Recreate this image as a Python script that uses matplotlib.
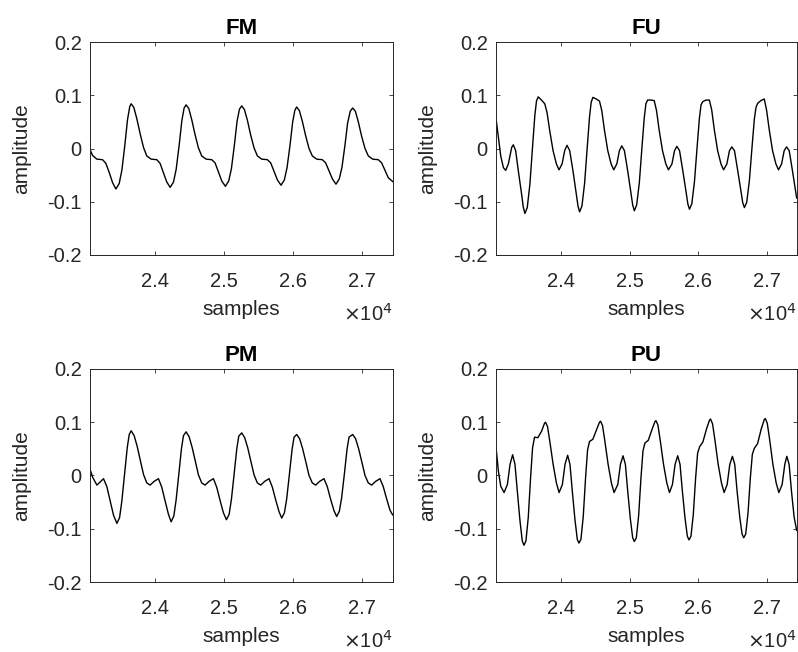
import matplotlib
matplotlib.use('Agg')
import matplotlib.pyplot as plt
import numpy as np

plt.rcParams['font.family'] = ['Liberation Sans', 'DejaVu Sans']

# FM waveform (samples, amplitude)
fm_x = [23050, 23087, 23150, 23232, 23280, 23329, 23377, 23425, 23473, 23512, 23555, 23594, 23627, 23647,
        23686, 23729, 23777, 23826, 23874, 23937, 24019, 24067, 24116, 24164, 24213, 24261, 24300, 24343,
        24382, 24415, 24444, 24483, 24526, 24574, 24623, 24671, 24734, 24816, 24864, 24913, 24961, 25014,
        25062, 25101, 25144, 25183, 25218, 25251, 25290, 25333, 25381, 25430, 25478, 25541, 25623, 25671,
        25720, 25768, 25821, 25869, 25908, 25951, 25990, 26022, 26048, 26087, 26130, 26178, 26227, 26275,
        26338, 26420, 26468, 26517, 26565, 26618, 26666, 26705, 26748, 26787, 26825, 26860, 26899, 26942,
        26990, 27039, 27087, 27150, 27232, 27280, 27329, 27377, 27440]
fm_y = [-0.002, -0.013, -0.020, -0.021, -0.028, -0.045, -0.064, -0.076, -0.066, -0.041, 0.006, 0.054, 0.079, 0.084,
        0.077, 0.056, 0.028, 0.002, -0.014, -0.020, -0.021, -0.028, -0.046, -0.063, -0.073, -0.063, -0.039, 0.006,
        0.052, 0.076, 0.082, 0.075, 0.054, 0.026, 0.001, -0.014, -0.020, -0.021, -0.027, -0.044, -0.061, -0.071,
        -0.061, -0.038, 0.006, 0.051, 0.074, 0.080, 0.073, 0.053, 0.025, 0.001, -0.014, -0.020, -0.021, -0.027,
        -0.043, -0.059, -0.069, -0.059, -0.036, 0.006, 0.050, 0.072, 0.078, 0.071, 0.051, 0.024, 0.000, -0.014,
        -0.020, -0.021, -0.027, -0.042, -0.057, -0.067, -0.057, -0.035, 0.006, 0.048, 0.070, 0.076, 0.070, 0.050,
        0.023, 0.000, -0.014, -0.020, -0.021, -0.027, -0.041, -0.055, -0.062]

# FU waveform
fu_x = [23050, 23085, 23119, 23158, 23192, 23230, 23279, 23303, 23337, 23376, 23424, 23448, 23472, 23506,
        23545, 23583, 23617, 23641, 23666, 23714, 23762, 23796, 23835, 23883, 23932, 23970,
        24015, 24053, 24087, 24126, 24174, 24223, 24247, 24271, 24305, 24344, 24382, 24416, 24440, 24465,
        24513, 24561, 24595, 24634, 24682, 24731, 24769,
        24814, 24852, 24886, 24925, 24973, 25022, 25046, 25070, 25104, 25143, 25181, 25215, 25239, 25264,
        25312, 25360, 25394, 25433, 25481, 25530, 25568,
        25619, 25657, 25691, 25730, 25778, 25827, 25851, 25875, 25909, 25948, 25986, 26020, 26044, 26069,
        26117, 26165, 26199, 26238, 26286, 26335, 26373,
        26421, 26459, 26493, 26532, 26580, 26629, 26653, 26677, 26711, 26750, 26788, 26822, 26846, 26871,
        26919, 26967, 27001, 27040, 27088, 27137, 27175,
        27220, 27258, 27292, 27331, 27379, 27440]
fu_y = [0.057, 0.021, -0.014, -0.036, -0.041, -0.029, 0.002, 0.007, -0.004, -0.042, -0.086, -0.110, -0.122, -0.111,
        -0.067, 0.002, 0.062, 0.089, 0.097, 0.091, 0.084, 0.067, 0.033, -0.004, -0.029, -0.040,
        -0.029, -0.004, 0.006, -0.004, -0.042, -0.086, -0.108, -0.119, -0.108, -0.065, 0.002, 0.060, 0.087, 0.096,
        0.093, 0.089, 0.071, 0.034, -0.004, -0.029, -0.040,
        -0.029, -0.004, 0.005, -0.004, -0.042, -0.085, -0.106, -0.117, -0.106, -0.064, 0.002, 0.058, 0.084, 0.091,
        0.091, 0.090, 0.071, 0.034, -0.004, -0.029, -0.040,
        -0.029, -0.004, 0.004, -0.004, -0.042, -0.083, -0.104, -0.114, -0.104, -0.062, 0.002, 0.057, 0.082, 0.088,
        0.091, 0.091, 0.073, 0.035, -0.004, -0.029, -0.040,
        -0.029, -0.004, 0.003, -0.004, -0.042, -0.082, -0.102, -0.111, -0.101, -0.060, 0.002, 0.055, 0.077, 0.085,
        0.090, 0.093, 0.072, 0.035, -0.004, -0.029, -0.040,
        -0.029, -0.004, 0.003, -0.004, -0.042, -0.093]

# PM waveform
pm_x = [23050, 23087, 23150, 23199, 23246, 23295, 23343, 23392, 23440, 23479, 23512, 23551, 23590, 23619, 23647,
        23690, 23734, 23777, 23826, 23874, 23922, 23980, 24043, 24091, 24140, 24188, 24227, 24266, 24299, 24338,
        24377, 24406, 24444, 24487, 24531, 24574, 24623, 24671, 24719, 24777, 24840, 24888, 24937, 24985, 25029,
        25068, 25101, 25140, 25179, 25208, 25251, 25294, 25338, 25381, 25430, 25478, 25526, 25584, 25647, 25695,
        25744, 25792, 25831, 25870, 25903, 25942, 25981, 26010, 26048, 26091, 26135, 26178, 26227, 26275, 26323,
        26381, 26444, 26492, 26541, 26589, 26628, 26667, 26700, 26739, 26778, 26807, 26860, 26903, 26947, 26990,
        27039, 27087, 27135, 27193, 27256, 27304, 27353, 27401, 27440]
pm_y = [0.012, -0.003, -0.018, -0.012, -0.006, -0.021, -0.048, -0.075, -0.090, -0.079, -0.048, 0.002, 0.052, 0.077, 0.084,
        0.075, 0.055, 0.030, 0.002, -0.014, -0.018, -0.011, -0.006, -0.022, -0.048, -0.073, -0.087, -0.076, -0.046, 0.002,
        0.051, 0.075, 0.082, 0.073, 0.053, 0.029, 0.001, -0.014, -0.018, -0.011, -0.006, -0.022, -0.047, -0.070, -0.083,
        -0.073, -0.045, 0.002, 0.050, 0.074, 0.080, 0.071, 0.052, 0.028, 0.001, -0.014, -0.018, -0.011, -0.006, -0.022,
        -0.046, -0.068, -0.080, -0.070, -0.044, 0.002, 0.049, 0.072, 0.077, 0.069, 0.050, 0.027, 0.000, -0.014, -0.018,
        -0.011, -0.006, -0.021, -0.045, -0.066, -0.077, -0.067, -0.042, 0.002, 0.049, 0.072, 0.077, 0.069, 0.050, 0.027,
        0.000, -0.014, -0.018, -0.011, -0.006, -0.021, -0.044, -0.065, -0.074]

# PU waveform
pu_x = [23050, 23085, 23119, 23168, 23216, 23255, 23293, 23327, 23361, 23400, 23434, 23458, 23487, 23521,
        23555, 23584, 23613, 23661, 23715, 23758, 23773, 23802, 23836, 23884, 23932, 23971,
        24019, 24058, 24096, 24130, 24164, 24203, 24237, 24261, 24290, 24324, 24358, 24387, 24416, 24464,
        24518, 24561, 24576, 24605, 24639, 24687, 24735, 24774,
        24828, 24867, 24905, 24939, 24973, 25012, 25046, 25070, 25099, 25133, 25167, 25196, 25225, 25273,
        25327, 25370, 25385, 25414, 25448, 25496, 25544, 25583,
        25626, 25665, 25703, 25737, 25771, 25810, 25844, 25868, 25897, 25931, 25965, 25994, 26023, 26071,
        26125, 26168, 26183, 26212, 26246, 26294, 26342, 26381,
        26425, 26464, 26502, 26536, 26570, 26609, 26643, 26667, 26696, 26730, 26764, 26793, 26822, 26870,
        26924, 26967, 26982, 27011, 27045, 27093, 27141, 27180,
        27228, 27267, 27296, 27330, 27364, 27403, 27440]
pu_y = [0.053, 0.008, -0.020, -0.032, -0.017, 0.021, 0.039, 0.021, -0.029, -0.085, -0.123, -0.131, -0.123, -0.079,
        -0.004, 0.052, 0.072, 0.071, 0.083, 0.098, 0.100, 0.092, 0.064, 0.021, -0.014, -0.032,
        -0.017, 0.021, 0.038, 0.021, -0.029, -0.083, -0.120, -0.127, -0.120, -0.077, -0.004, 0.048, 0.064, 0.068,
        0.086, 0.100, 0.102, 0.094, 0.065, 0.021, -0.014, -0.032,
        -0.017, 0.021, 0.037, 0.021, -0.029, -0.082, -0.117, -0.124, -0.117, -0.075, -0.004, 0.046, 0.061, 0.066,
        0.086, 0.101, 0.103, 0.095, 0.066, 0.021, -0.014, -0.032,
        -0.017, 0.021, 0.037, 0.021, -0.029, -0.080, -0.114, -0.121, -0.114, -0.073, -0.004, 0.042, 0.054, 0.063,
        0.088, 0.104, 0.106, 0.097, 0.067, 0.021, -0.014, -0.032,
        -0.017, 0.021, 0.036, 0.021, -0.029, -0.078, -0.110, -0.117, -0.110, -0.070, -0.004, 0.040, 0.051, 0.060,
        0.088, 0.105, 0.107, 0.098, 0.068, 0.021, -0.014, -0.032,
        -0.017, 0.021, 0.036, 0.021, -0.029, -0.078, -0.103]

titles = ['FM', 'FU', 'PM', 'PU']
series = [(fm_x, fm_y), (fu_x, fu_y), (pm_x, pm_y), (pu_x, pu_y)]
xticks = [24000, 25000, 26000, 27000]
xticklabels = ['2.4', '2.5', '2.6', '2.7']
yticks = [-0.2, -0.1, 0, 0.1, 0.2]
yticklabels = ['-0.2', '-0.1', '0', '0.1', '0.2']

W, H = 798, 652
fig = plt.figure(figsize=(W / 100, H / 100), dpi=100)
# axes boxes in pixels: left, top, width, height
boxes = [(90, 42, 303, 213), (496, 42, 301, 213), (90, 369, 303, 213), (496, 369, 301, 213)]
grey = '#262626'

for (l, t, w, h), title, (sx, sy) in zip(boxes, titles, series):
    ax = fig.add_axes([l / W, 1 - (t + h) / H, w / W, h / H])
    ax.plot(sx, sy, color='black', linewidth=1.0)
    ax.set_xlim(23050, 27445)
    ax.set_ylim(-0.2, 0.2)
    ax.set_xticks(xticks)
    ax.set_xticklabels(xticklabels)
    ax.set_yticks(yticks)
    ax.set_yticklabels(yticklabels)
    ax.tick_params(top=True, right=True, direction='in', length=3, width=0.6,
                   colors=grey, labelsize=14.5)
    ax.tick_params(axis='x', pad=12)
    ax.tick_params(axis='y', pad=6)
    for sp in ax.spines.values():
        sp.set_color(grey)
        sp.set_linewidth(0.7)
    ax.set_title(title, fontsize=16, fontweight='bold', pad=6)
    ax.set_xlabel('samples', fontsize=15, color=grey)
    ax.xaxis.label.set_va('center')
    ax.xaxis.set_label_coords(0.5, -54 / h)
    ax.set_ylabel('amplitude', fontsize=15, color=grey)
    ax.yaxis.label.set_va('center')
    ax.yaxis.set_label_coords(-68 / w, 0.5)
    ax.text(1.0, -59 / h, r'$\times$10$^4$', transform=ax.transAxes, ha='right', va='center',
            fontsize=14.5, color=grey)

plt.savefig('out.png', dpi=100)
